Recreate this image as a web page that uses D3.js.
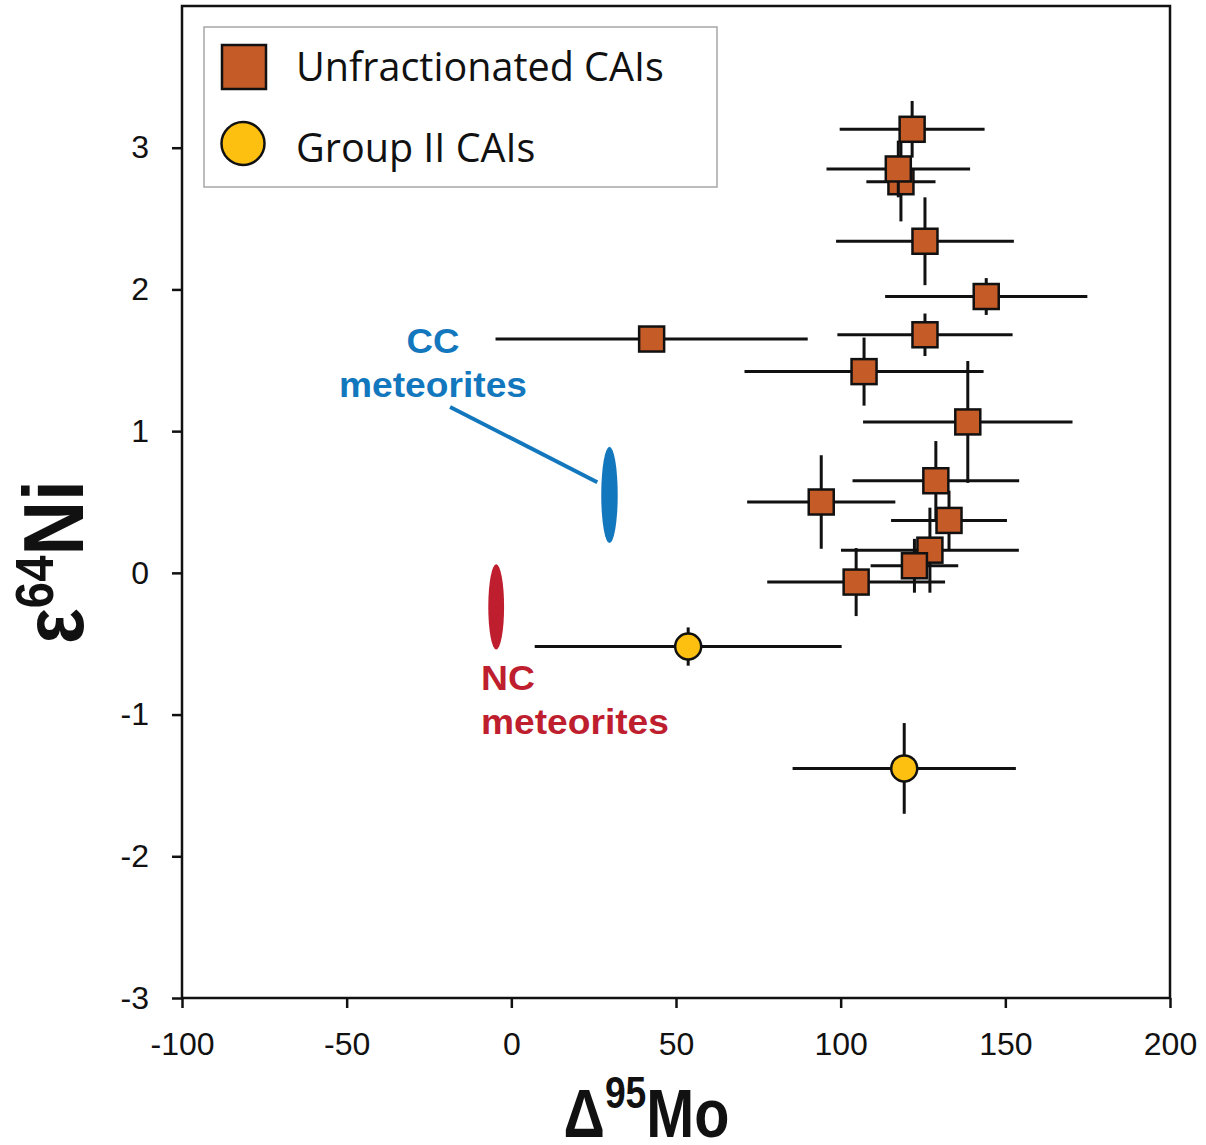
<!DOCTYPE html>
<html><head><meta charset="utf-8">
<script src="https://cdn.jsdelivr.net/npm/d3@7"></script>
<style>body{margin:0;background:#fff} svg{display:block}</style>
</head><body>
<script>
// ---- data ----
const xTicks = [-100, -50, 0, 50, 100, 150, 200];
const yTicks = [-3, -2, -1, 0, 1, 2, 3];

// Unfractionated CAIs (Δ95Mo, ε64Ni, errors)
const unfracX    = [121.7, 118.3, 117.5, 125.6, 144.2, 125.6, 42.6, 107.1, 138.6, 128.9, 94.1, 132.9, 127.1, 122.4, 104.7];
const unfracY    = [3.13, 2.76, 2.85, 2.34, 1.95, 1.68, 1.65, 1.42, 1.065, 0.65, 0.50, 0.37, 0.16, 0.05, -0.065];
const unfracXErr = [22, 10.5, 21.8, 27, 30.7, 26.6, 47.4, 36.3, 31.8, 25.3, 22.5, 17.6, 27, 13.3, 27];
const unfracYErr = [0.2, 0.28, 0.2, 0.31, 0.13, 0.15, 0.08, 0.24, 0.43, 0.28, 0.33, 0.21, 0.3, 0.19, 0.24];

// Group II CAIs
const groupX    = [53.7, 119.3];
const groupY    = [-0.52, -1.38];
const groupXErr = [46.6, 33.9];
const groupYErr = [0.135, 0.32];

// meteorite fields (ellipses): centre x, centre y, half-width, half-height
const fieldNames = ["CC", "NC"];
const fieldCX = [29.8, -4.6];
const fieldCY = [0.55, -0.24];
const fieldRX = [2.5, 2.4];
const fieldRY = [0.34, 0.30];
const ccLeader = [[-18.6, 1.17], [26.1, 0.64]];

const legendLabels = ["Unfractionated CAIs", "Group II CAIs"];

// ---- drawing ----
const W = 1206, H = 1145;
const FONT = '"Liberation Sans", Arial, Helvetica, sans-serif';
const C_SQ = "#C55B27", C_CI = "#FDC010", C_BLUE = "#1377BD", C_RED = "#BE1E2D";

const svg = d3.select("body").append("svg").attr("width", W).attr("height", H);
const x = d3.scaleLinear().domain([-100, 200]).range([182, 1170]);
const y = d3.scaleLinear().domain([-3, 4]).range([998, 6]);

// axes
const fmt = d => String(d);
const xAxis = svg.append("g").attr("transform", `translate(0,${y(-3)})`)
  .call(d3.axisBottom(x).tickValues(xTicks).tickSize(10).tickPadding(24).tickFormat(fmt));
const yAxis = svg.append("g").attr("transform", `translate(${x(-100)},0)`)
  .call(d3.axisLeft(y).tickValues(yTicks).tickSize(10).tickPadding(23).tickFormat(fmt));
[xAxis, yAxis].forEach(g => {
  g.select(".domain").remove();
  g.selectAll(".tick line").attr("stroke", "#111").attr("stroke-width", 2.5);
  g.selectAll(".tick text").attr("font-family", FONT).attr("font-size", 32).attr("fill", "#111");
});
svg.append("rect").attr("x", x(-100)).attr("y", y(4)).attr("width", x(200) - x(-100)).attr("height", y(-3) - y(4))
  .attr("fill", "none").attr("stroke", "#111").attr("stroke-width", 2.5);

// meteorite fields
const fieldColors = [C_BLUE, C_RED];
fieldNames.forEach((n, i) => {
  svg.append("ellipse")
    .attr("cx", x(fieldCX[i])).attr("cy", y(fieldCY[i]))
    .attr("rx", x(fieldCX[i] + fieldRX[i]) - x(fieldCX[i]))
    .attr("ry", y(fieldCY[i]) - y(fieldCY[i] + fieldRY[i]))
    .attr("fill", fieldColors[i]);
});
svg.append("line")
  .attr("x1", x(ccLeader[0][0])).attr("y1", y(ccLeader[0][1]))
  .attr("x2", x(ccLeader[1][0])).attr("y2", y(ccLeader[1][1]))
  .attr("stroke", C_BLUE).attr("stroke-width", 4);

function fitX(sel, target, ax) {
  const w = sel.node().getBBox().width;
  const s = target / w;
  sel.attr("transform", `translate(${ax},0) scale(${s},1) translate(${-ax},0)`);
}
function label(txt, xx, yy, color, anchor, target) {
  const t = svg.append("text").attr("x", xx).attr("y", yy).attr("fill", color)
    .attr("font-family", FONT).attr("font-weight", "bold").attr("font-size", 35)
    .attr("text-anchor", anchor).text(txt);
  fitX(t, target, xx);
}
label("CC", 433, 353, C_BLUE, "middle", 53);
label("meteorites", 433, 397, C_BLUE, "middle", 188);
label("NC", 481, 690, C_RED, "start", 54);
label("meteorites", 481, 734, C_RED, "start", 188);

// data points with error bars
function drawPoint(px, py, ex, ey, shape) {
  const g = svg.append("g");
  g.append("line").attr("x1", x(px - ex)).attr("x2", x(px + ex)).attr("y1", y(py)).attr("y2", y(py))
    .attr("stroke", "#111").attr("stroke-width", 3);
  g.append("line").attr("x1", x(px)).attr("x2", x(px)).attr("y1", y(py - ey)).attr("y2", y(py + ey))
    .attr("stroke", "#111").attr("stroke-width", 3);
  if (shape === "square") {
    g.append("rect").attr("x", x(px) - 12.5).attr("y", y(py) - 12.5).attr("width", 25).attr("height", 25)
      .attr("fill", C_SQ).attr("stroke", "#111").attr("stroke-width", 2.5);
  } else {
    g.append("circle").attr("cx", x(px)).attr("cy", y(py)).attr("r", 13)
      .attr("fill", C_CI).attr("stroke", "#111").attr("stroke-width", 2.5);
  }
}
unfracX.forEach((v, i) => drawPoint(v, unfracY[i], unfracXErr[i], unfracYErr[i], "square"));
groupX.forEach((v, i) => drawPoint(v, groupY[i], groupXErr[i], groupYErr[i], "circle"));

// legend
svg.append("rect").attr("x", 204).attr("y", 27).attr("width", 513).attr("height", 160)
  .attr("fill", "#fff").attr("stroke", "#a6a6a6").attr("stroke-width", 1.5);
svg.append("rect").attr("x", 222).attr("y", 45).attr("width", 44).attr("height", 44)
  .attr("fill", C_SQ).attr("stroke", "#111").attr("stroke-width", 2.5);
svg.append("circle").attr("cx", 243).attr("cy", 143.5).attr("r", 21.5)
  .attr("fill", C_CI).attr("stroke", "#111").attr("stroke-width", 2.5);
const LFONT = '"Open Sans", "Noto Sans", Lato, sans-serif';
const lt1 = svg.append("text").attr("x", 296).attr("y", 81).attr("font-family", LFONT).attr("font-size", 40)
  .attr("fill", "#111").text(legendLabels[0]);
const fs = 40 * 368 / lt1.node().getBBox().width;
lt1.attr("font-size", fs);
svg.append("text").attr("x", 296).attr("y", 162).attr("font-family", LFONT).attr("font-size", fs)
  .attr("fill", "#111").text(legendLabels[1]);

// axis titles
const xt = svg.append("text").attr("font-family", FONT).attr("font-weight", "bold").attr("font-size", 68)
  .attr("fill", "#111").attr("text-anchor", "middle");
xt.append("tspan").text("Δ");
xt.append("tspan").attr("font-size", 44).attr("dy", -29).text("95");
xt.append("tspan").attr("dy", 29).text("Mo");
{
  const w = xt.node().getBBox().width;
  xt.attr("transform", `translate(646.5,1137) scale(${166 / w},1)`);
}
const yt = svg.append("text").attr("font-family", FONT).attr("font-weight", "bold").attr("font-size", 86)
  .attr("fill", "#111").attr("text-anchor", "middle");
yt.append("tspan").text("ε");
yt.append("tspan").attr("font-size", 54).attr("dy", -30).text("64");
yt.append("tspan").attr("dy", 30).text("Ni");
{
  const w = yt.node().getBBox().width;
  yt.attr("transform", `translate(83,562) rotate(-90) scale(${164 / w},1)`);
}
</script>
</body></html>
